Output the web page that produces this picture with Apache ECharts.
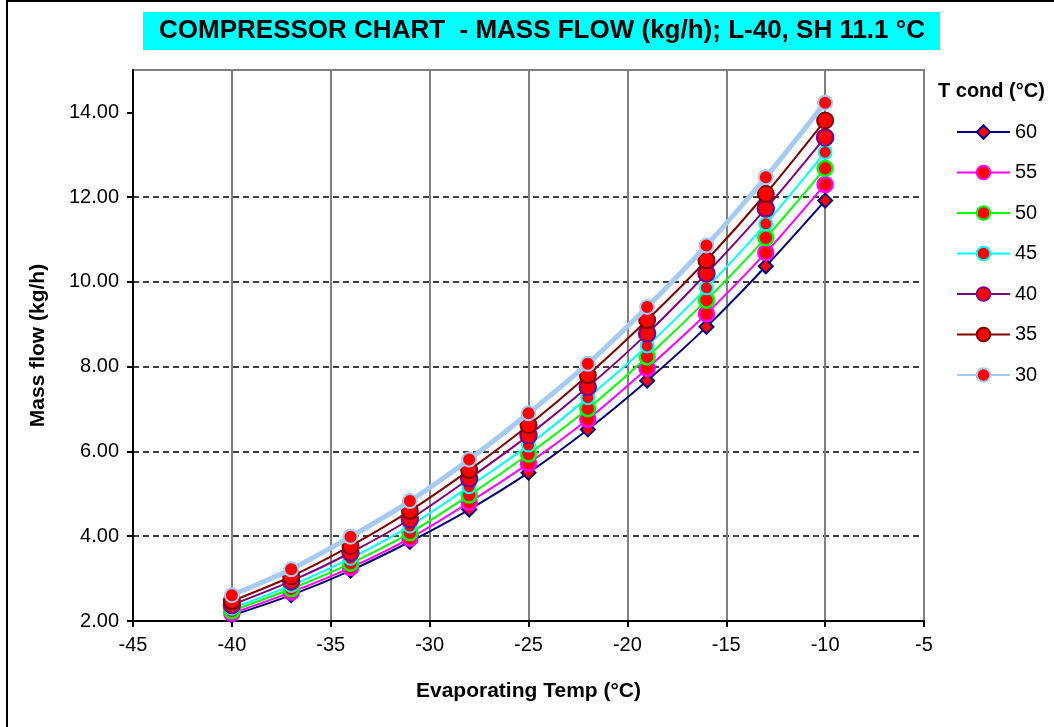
<!DOCTYPE html>
<html>
<head>
<meta charset="utf-8">
<script src="https://cdn.jsdelivr.net/npm/echarts@6/dist/echarts.min.js"></script>
<style>
html,body{margin:0;padding:0;background:#fff;}
#chart{width:1054px;height:727px;}
</style>
</head>
<body>
<div id="chart"></div>
<script>
// Data
const evapTemps = [-40, -37, -34, -31, -28, -25, -22, -19, -16, -13, -10];
const condLabels = ['60', '55', '50', '45', '40', '35', '30'];
const flow60 = [2.13, 2.61, 3.19, 3.87, 4.63, 5.50, 6.52, 7.67, 8.94, 10.37, 11.92];
const flow55 = [2.18, 2.68, 3.26, 3.95, 4.80, 5.72, 6.76, 7.96, 9.25, 10.69, 12.30];
const flow50 = [2.24, 2.76, 3.36, 4.08, 4.97, 5.94, 7.01, 8.23, 9.57, 11.04, 12.68];
const flow45 = [2.30, 2.84, 3.48, 4.24, 5.17, 6.15, 7.27, 8.49, 9.86, 11.37, 13.06];
const flow40 = [2.38, 2.94, 3.61, 4.40, 5.36, 6.38, 7.52, 8.78, 10.20, 11.73, 13.41];
const flow35 = [2.47, 3.05, 3.77, 4.60, 5.56, 6.62, 7.80, 9.10, 10.51, 12.08, 13.81];
const flow30 = [2.61, 3.22, 3.99, 4.83, 5.81, 6.90, 8.07, 9.41, 10.86, 12.47, 14.23];
const yTicks = [2, 4, 6, 8, 10, 12, 14];
const xTicks = [-45, -40, -35, -30, -25, -20, -15, -10, -5];

const flows = [flow60, flow55, flow50, flow45, flow40, flow35, flow30];
const styles = [
  {line: '#000080', width: 2, symbol: 'diamond', size: 14, border: '#000080', bw: 2},
  {line: '#FF00FF', width: 2, symbol: 'circle', size: 15, border: '#FF00FF', bw: 2.5},
  {line: '#00FF00', width: 2, symbol: 'circle', size: 15, border: '#00FF00', bw: 2.5},
  {line: '#00FFFF', width: 2, symbol: 'circle', size: 13, border: '#00FFFF', bw: 2},
  {line: '#800080', width: 2, symbol: 'circle', size: 16, border: '#800080', bw: 2.5},
  {line: '#800000', width: 2, symbol: 'circle', size: 16, border: '#800000', bw: 2},
  {line: '#A6CAF0', width: 5, symbol: 'circle', size: 14, border: '#A6CAF0', bw: 2}
];

const series = flows.map((vals, i) => ({
  name: condLabels[i],
  type: 'line',
  smooth: 0.3,
  data: evapTemps.map((x, j) => [x, vals[j]]),
  symbol: styles[i].symbol,
  symbolSize: styles[i].size,
  lineStyle: {color: styles[i].line, width: styles[i].width},
  itemStyle: {color: '#FF0000', borderColor: styles[i].border, borderWidth: styles[i].bw},
  emphasis: {disabled: true},
  z: 2 + i
}));

const chart = echarts.init(document.getElementById('chart'), null, {renderer: 'canvas'});
const FONT = 'Liberation Sans, Arial, sans-serif';
chart.setOption({
  animation: false,
  backgroundColor: '#fff',
  textStyle: {fontFamily: FONT},
  grid: {left: 133, right: 130, top: 70, bottom: 106, show: true, borderColor: '#808080', borderWidth: 2},
  graphic: [
    {type: 'rect', shape: {x: 7, y: 1, width: 1100, height: 800}, style: {fill: 'none', stroke: '#000', lineWidth: 2}, z: 100},
    {type: 'rect', shape: {x: 143, y: 12, width: 797, height: 38}, style: {fill: '#00FFFF'}, z: 100},
    {type: 'text', x: 542, y: 31, style: {text: 'COMPRESSOR CHART  - MASS FLOW (kg/h); L-40, SH 11.1 °C', fill: '#000', font: 'bold 26px Liberation Sans, Arial, sans-serif', textAlign: 'center', textVerticalAlign: 'middle'}, z: 101},
    {type: 'text', x: 938, y: 91, style: {text: 'T cond (°C)', fill: '#000', font: 'bold 20px Liberation Sans, Arial, sans-serif', textAlign: 'left', textVerticalAlign: 'middle'}, z: 101}
  ],
  legend: {
    orient: 'vertical',
    left: 956,
    top: 122,
    padding: 0,
    itemWidth: 53,
    itemHeight: 17,
    itemGap: 20.5,
    data: condLabels,
    textStyle: {fontSize: 20, color: '#000', fontFamily: FONT}
  },
  xAxis: {
    type: 'value',
    min: xTicks[0],
    max: xTicks[xTicks.length - 1],
    interval: 5,
    name: 'Evaporating Temp (°C)',
    nameLocation: 'middle',
    nameGap: 60,
    nameTextStyle: {fontSize: 21, fontWeight: 'bold', color: '#000'},
    axisLine: {onZero: false, lineStyle: {color: '#000', width: 2}},
    axisTick: {show: true, inside: false, length: 6, lineStyle: {color: '#000', width: 2}},
    axisLabel: {fontSize: 20, color: '#000', margin: 14},
    splitLine: {show: true, lineStyle: {color: '#808080', width: 2}}
  },
  yAxis: {
    type: 'value',
    min: yTicks[0],
    max: 15,
    interval: 2,
    name: 'Mass flow (kg/h)',
    nameLocation: 'middle',
    nameGap: 84,
    nameTextStyle: {fontSize: 21, fontWeight: 'bold', color: '#000'},
    axisLine: {onZero: false, lineStyle: {color: '#000', width: 2}},
    axisTick: {show: true, inside: false, length: 6, lineStyle: {color: '#000', width: 2}, customValues: yTicks},
    axisLabel: {fontSize: 20, color: '#000', margin: 14, customValues: yTicks, formatter: v => v.toFixed(2)},
    splitLine: {show: true, showMaxLine: false, lineStyle: {color: '#000', width: 1.5, type: [6, 4]}}
  },
  series: series
});
</script>
</body>
</html>
